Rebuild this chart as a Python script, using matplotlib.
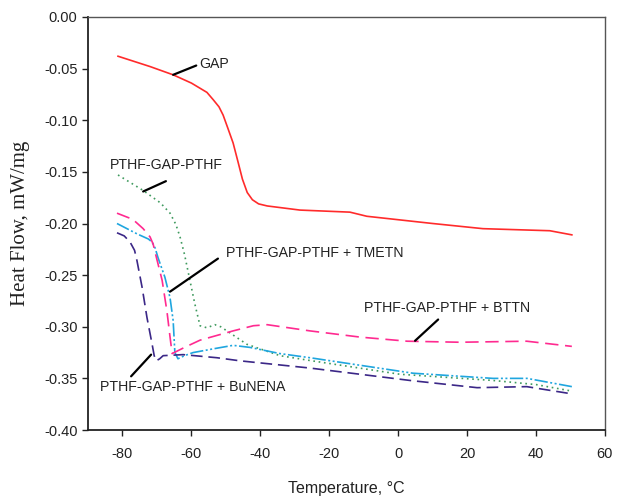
import numpy as np
import matplotlib
matplotlib.use("Agg")
import matplotlib.pyplot as plt

plt.rcParams['font.family'] = ['Liberation Sans', 'DejaVu Sans']
plt.rcParams['axes.unicode_minus'] = False

# GAP (solid red)
gap_t = [-81.3, -72, -65.3, -60, -57.5, -55.5, -53.7, -52, -50.8, -49.5, -47.9, -46.5, -45.2, -43.8, -42.3, -40.5, -38,
         -28.5, -14, -9.1, 10, 24.6, 44, 50.4]
gap_h = [-0.038, -0.048, -0.056, -0.064, -0.069, -0.073, -0.080, -0.087, -0.095, -0.107, -0.122, -0.140, -0.157, -0.170,
         -0.177, -0.181, -0.183, -0.187, -0.189, -0.193, -0.200, -0.205, -0.207, -0.211]

# PTHF-GAP-PTHF (green dotted)
pg_t = [-81.3, -74, -69, -66.2, -64.5, -63.3, -62, -61, -60, -59, -58, -57.5, -55.5, -53.2, -51.5, -49.7, -43.9, -34.3,
        -25, 0.5, 27.5, 40, 49.9]
pg_h = [-0.153, -0.168, -0.180, -0.190, -0.201, -0.213, -0.230, -0.246, -0.262, -0.278, -0.292, -0.299, -0.301, -0.298,
        -0.300, -0.304, -0.317, -0.328, -0.333, -0.346, -0.352, -0.356, -0.362]

# + TMETN (cyan dash-dot-dot)
tm_t = [-81.6, -75.8, -72.5, -71.4, -70.5, -69.7, -67.7, -66.2, -65.3, -64.8, -63.9, -62, -59.5, -53, -47.9, -43, -34.3,
        -25.6, 4.3, 27.5, 37.4, 50.4]
tm_h = [-0.200, -0.210, -0.215, -0.218, -0.224, -0.233, -0.252, -0.272, -0.294, -0.325, -0.331, -0.328, -0.325, -0.321,
        -0.318, -0.320, -0.326, -0.330, -0.345, -0.350, -0.350, -0.358]

# + BTTN (pink dashed)
bt_t = [-81.6, -77, -74, -72, -71.1, -70, -68.5, -67.1, -66.2, -65.6, -62, -57.5, -47.9, -42, -38, -25.6, -11.1, 2.6,
        17.9, 37.3, 50.4]
bt_h = [-0.190, -0.196, -0.205, -0.213, -0.220, -0.235, -0.255, -0.285, -0.310, -0.326, -0.320, -0.313, -0.304, -0.299,
        -0.298, -0.304, -0.310, -0.314, -0.315, -0.314, -0.319]

# + BuNENA (navy dashed)
bn_t = [-81.6, -79.5, -77.8, -76.5, -75.8, -74.3, -72.9, -71.4, -70.8, -70.2, -69.2, -68.2, -62.4, -52.6, -45.9, -34.3,
        -25.6, 3.4, 22.9, 37.3, 50.4]
bn_h = [-0.209, -0.212, -0.218, -0.226, -0.236, -0.262, -0.291, -0.317, -0.328, -0.333, -0.331, -0.328, -0.327, -0.330,
        -0.333, -0.337, -0.340, -0.352, -0.359, -0.358, -0.365]

xticks = [-80, -60, -40, -20, 0, 20, 40, 60]
yticks = [0.00, -0.05, -0.10, -0.15, -0.20, -0.25, -0.30, -0.35, -0.40]

fig = plt.figure(figsize=(6.23, 4.97), dpi=100)
ax = fig.add_axes([0.1413, 0.1348, 0.8297, 0.831])

ax.plot(gap_t, gap_h, color='#ff2b2b', lw=1.2, ls='-')
ax.plot(pg_t, pg_h, color='#3f9a5e', lw=1.2, ls=(0, (1, 2.2)))
ax.plot(tm_t, tm_h, color='#1fa6df', lw=1.2, ls=(0, (8, 1.5, 1.2, 1.5, 1.2, 1.5)))
ax.plot(bt_t, bt_h, color='#ff2a90', lw=1.2, ls=(0, (8, 4)))
ax.plot(bn_t, bn_h, color='#3b2787', lw=1.2, ls=(0, (7, 3.5)))

ax.set_xlim(-90, 60)
ax.set_ylim(-0.40, 0.0)
ax.set_xticks(xticks)
ax.set_yticks(yticks)
ax.set_yticklabels(['%.2f' % v for v in yticks])
ax.tick_params(direction='out', length=4.5, width=1, colors='#222222', labelsize=10.5)
ax.tick_params(axis='x', pad=8)
ax.tick_params(axis='y', pad=3)
for s in ['left', 'bottom']:
    ax.spines[s].set_color('#222222')
    ax.spines[s].set_linewidth(1.3)
for s in ['top', 'right']:
    ax.spines[s].set_color('#555555')
    ax.spines[s].set_linewidth(1.0)

ax.set_xlabel('Temperature, °C', fontsize=11.5, color='#222222', labelpad=14)
ax.set_ylabel('Heat Flow, mW/mg', fontsize=15, color='#222222',
              family='Liberation Serif', labelpad=10)

# labels and leader lines
lead = dict(arrowprops=dict(arrowstyle='-', color='black', lw=1.6, shrinkA=0, shrinkB=0))
txt = dict(ha='center', va='center', fontsize=10.2, color='#222222')

ax.text(-53.5, -0.0455, 'GAP', **txt)
ax.annotate('', xy=(-65.3, -0.056), xytext=(-58.6, -0.047), **lead)
ax.text(-67.4, -0.1435, 'PTHF-GAP-PTHF', **txt)
ax.annotate('', xy=(-74, -0.169), xytext=(-67.4, -0.159), **lead)
ax.text(-24.3, -0.229, 'PTHF-GAP-PTHF + TMETN', **txt)
ax.annotate('', xy=(-66.2, -0.266), xytext=(-52.3, -0.234), **lead)
ax.text(14.2, -0.2816, 'PTHF-GAP-PTHF + BTTN', **txt)
ax.annotate('', xy=(4.9, -0.3136), xytext=(11.6, -0.293), **lead)
ax.text(-59.5, -0.358, 'PTHF-GAP-PTHF + BuNENA', **txt)
ax.annotate('', xy=(-71.7, -0.327), xytext=(-77.5, -0.348), **lead)

fig.savefig('out.png', dpi=100)
